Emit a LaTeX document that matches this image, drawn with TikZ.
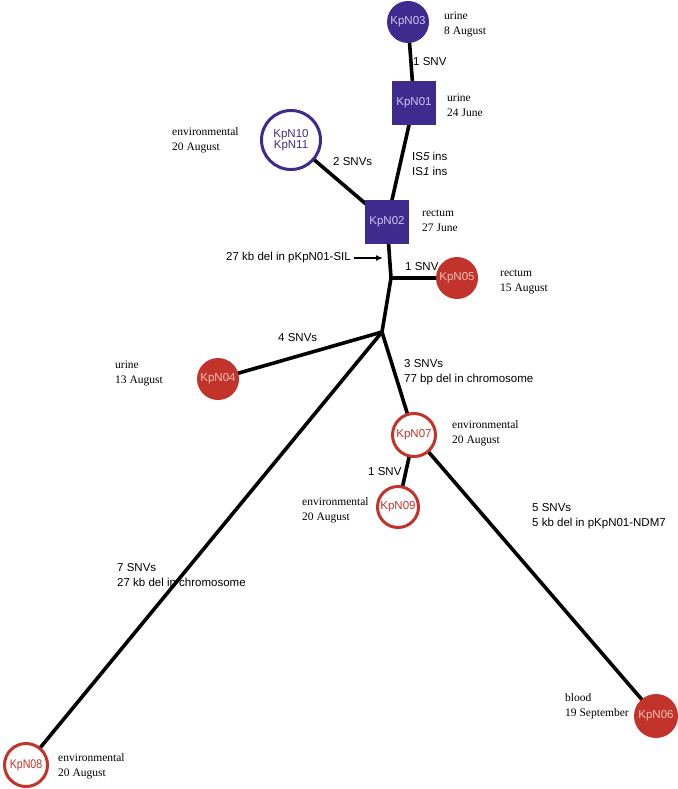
\documentclass[tikz,border=0pt]{standalone}
\usepackage{fontspec}
\setmainfont{Liberation Serif}
\setsansfont{Liberation Sans}
\usetikzlibrary{arrows.meta,backgrounds}
\definecolor{myblue}{HTML}{3F2A8E}
\definecolor{myred}{HTML}{C1332B}
\definecolor{bluetxt}{HTML}{CFC6F0}
\definecolor{redtxt}{HTML}{F6C2B8}
\begin{document}
\begin{tikzpicture}[x=1pt,y=-1pt,
  nodefont/.style={font=\sffamily\fontsize{11.5}{13}\selectfont},
  bluesq/.style={rectangle,fill=myblue,minimum size=44pt,inner sep=0pt,text=bluetxt,nodefont},
  bluedot/.style={circle,fill=myblue,minimum size=42pt,inner sep=0pt,text=bluetxt,nodefont},
  blueopen/.style={circle,draw=myblue,line width=3pt,fill=white,minimum size=59pt,inner sep=0pt,text=myblue,nodefont,align=center},
  reddot/.style={circle,fill=myred,minimum size=42pt,inner sep=0pt,text=redtxt,nodefont},
  redopen/.style={circle,draw=myred,line width=3pt,fill=white,minimum size=42pt,inner sep=0pt,text=myred,nodefont},
  edge/.style={line width=3.6pt,black},
  elab/.style={anchor=west,inner sep=0pt,align=left,font=\sffamily\fontsize{11.5}{15}\selectfont},
  slab/.style={anchor=west,inner sep=0pt,align=left,font=\rmfamily\fontsize{11.5}{15}\selectfont}]
\useasboundingbox (0,0) rectangle (677,789);
% junctions
\coordinate (J1) at (391,278);
\coordinate (J2) at (382,332);
% nodes
\node[bluedot] (N03) at (408,22) {KpN03};
\node[bluesq] (N01) at (414,103) {KpN01};
\node[blueopen] (N10) at (291,140) {KpN10\\[-2pt]KpN11};
\node[bluesq] (N02) at (387,222) {KpN02};
\node[reddot] (N05) at (457,278) {KpN05};
\node[reddot] (N04) at (218,379) {KpN04};
\node[redopen,minimum size=43pt] (N07) at (414,435) {KpN07};
\node[redopen,minimum size=41pt] (N09) at (398,507) {KpN09};
\node[reddot,minimum size=44pt] (N06) at (656,716) {KpN06};
\node[redopen,minimum size=43pt,font=\sffamily\fontsize{12.5}{14}\selectfont] (N08) at (26,765) {\scalebox{0.85}[1]{KpN08}};
% edges behind the nodes
\begin{scope}[on background layer]
\draw[edge] (N03.center) -- (N01.center);
\draw[edge] (N01.center) -- (N02.center);
\draw[edge] (N10.center) -- (N02.center);
\draw[edge] (N02.center) -- (J1);
\draw[edge] (J1) -- (N05.center);
\draw[edge] (J1) -- (J2);
\draw[edge] (J2) -- (N04.center);
\draw[edge] (J2) -- (N07.center);
\draw[edge] (J2) -- (N08.center);
\draw[edge] (N07.center) -- (N09.center);
\draw[edge] (N07.center) -- (N06.center);
\end{scope}
% edge labels
\node[elab] (e1) at (413,62) {1 SNV};
\node[elab] (e2) at (333,162) {2 SNVs};
\node[elab] (e3) at (412,164) {IS\textit{5} ins\\IS\textit{1} ins};
\node[elab] (sil) at (226,258) {27 kb del in pKpN01-SIL};
\coordinate (siltip) at (383,258);
\draw[line width=1.5pt,-{Latex[length=7pt,width=6pt]}] ([xshift=3pt]sil.east) -- (siltip);
\node[elab] (e5) at (405,267) {1 SNV};
\node[elab] (e4) at (278,338) {4 SNVs};
\node[elab] (e7) at (404,372) {3 SNVs\\77 bp del in chromosome};
\node[elab] (e9) at (368,472) {1 SNV};
\node[elab] (e6) at (532,516) {5 SNVs\\5 kb del in pKpN01-NDM7};
\node[elab] (e8) at (117,575) {7 SNVs\\27 kb del in chromosome};
% sample labels
\node[slab] (s03) at (444,24) {urine\\8 August};
\node[slab] (s01) at (447,105) {urine\\24 June};
\node[slab] (s10) at (172,140) {environmental\\20 August};
\node[slab] (s02) at (422,221) {rectum\\27 June};
\node[slab] (s05) at (500,282) {rectum\\15 August};
\node[slab] (s04) at (115,373) {urine\\13 August};
\node[slab] (s07) at (452,433) {environmental\\20 August};
\node[slab] (s09) at (302,510) {environmental\\20 August};
\node[slab] (s06) at (565,706) {blood\\19 September};
\node[slab] (s08) at (58,766) {environmental\\20 August};
\end{tikzpicture}
\end{document}
